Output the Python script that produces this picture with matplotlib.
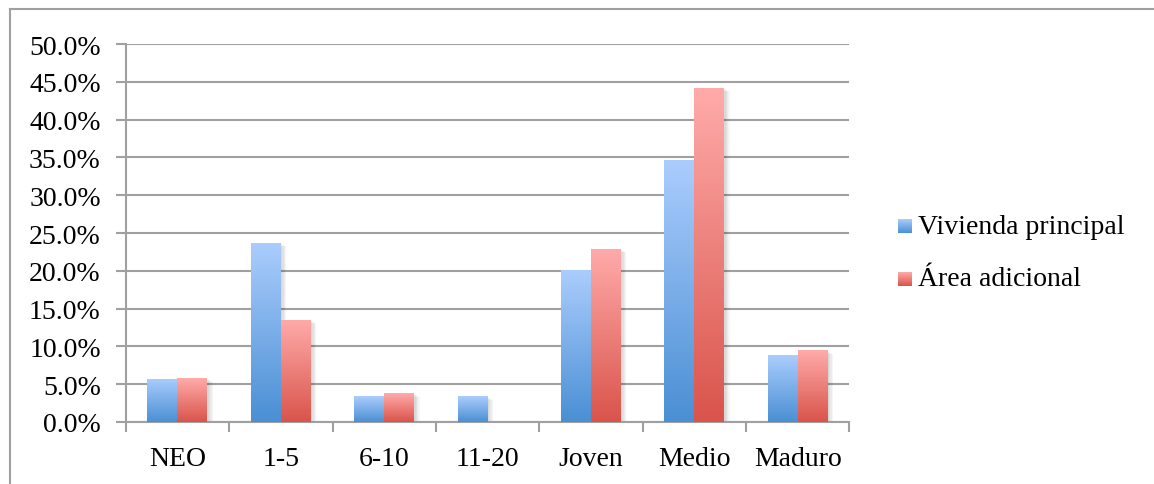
import matplotlib
matplotlib.use("Agg")
import matplotlib.pyplot as plt
import matplotlib.patheffects as pe
from matplotlib.colors import LinearSegmentedColormap
from matplotlib.lines import Line2D
from matplotlib.ticker import FuncFormatter, FixedLocator
import numpy as np

plt.rcParams["font.family"] = ["Liberation Serif", "DejaVu Serif"]

categories = ["NEO", "1-5", "6-10", "11-20", "Joven", "Medio", "Maduro"]
vivienda_principal = [5.7, 23.7, 3.4, 3.4, 20.1, 34.7, 8.8]
area_adicional = [5.8, 13.5, 3.8, 0.0, 22.9, 44.2, 9.5]
series_names = ["Vivienda principal", "Área adicional"]

blue_map = LinearSegmentedColormap.from_list("blue_grad", ["#4a8fd4", "#abcdfd"])
red_map = LinearSegmentedColormap.from_list("red_grad", ["#d9544b", "#ffabaa"])
grid_gray = "#a0a0a0"
fs = 20

fig = plt.figure(figsize=(11.54, 4.85), dpi=100)
ax = fig.add_axes([0.109, 0.128, 0.627, 0.779])

x = np.arange(len(categories))
width = 0.29
grad = np.linspace(0, 1, 256).reshape(-1, 1)

# soft shadow built from a few faint offset copies
shadow = [pe.SimplePatchShadow(offset=(dx, -dy), shadow_rgbFace="#000000", alpha=0.04)
          for dx, dy in [(1, 1), (2, 1.5), (3, 2), (4, 2.5)]]

for offset, vals, cmap in [(-width / 2, vivienda_principal, blue_map),
                           (width / 2, area_adicional, red_map)]:
    bars = ax.bar(x + offset, vals, width, facecolor="none", edgecolor="none",
                  zorder=2)
    for b in bars:
        h = b.get_height()
        if h <= 0:
            continue
        x0 = b.get_x()
        b.set_path_effects(shadow)
        im = ax.imshow(grad, extent=[x0, x0 + width, 0, h], origin="lower",
                       aspect="auto", cmap=cmap, zorder=3)
        im.set_clip_path(b)

ax.set_xlim(-0.5, len(categories) - 0.5)
ax.set_ylim(0, 50)
ax.set_yticks(np.arange(0, 51, 5))
ax.yaxis.set_major_formatter(FuncFormatter(lambda v, _: f"{v:.1f}%"))
ax.yaxis.grid(True, color=grid_gray, linewidth=1.5, zorder=0)
ax.set_axisbelow(True)

ax.set_xticks(x)
ax.set_xticklabels(categories)
ax.xaxis.set_minor_locator(FixedLocator(np.arange(-0.5, len(categories), 1)))
ax.tick_params(axis="x", which="major", length=0, pad=17, labelsize=fs)
ax.tick_params(axis="x", which="minor", length=7, width=1.5, color=grid_gray)
ax.tick_params(axis="y", length=7, width=1.5, color=grid_gray, labelsize=fs, pad=11)

for side in ["top", "right"]:
    ax.spines[side].set_visible(False)
for side in ["left", "bottom"]:
    ax.spines[side].set_color(grid_gray)
    ax.spines[side].set_linewidth(1.5)

# legend on the right: gradient swatch plus label
W, H = 1154, 485
for i, (name, cmap) in enumerate(zip(series_names, [blue_map, red_map])):
    cy = 227 + i * 53
    sw = fig.add_axes([898 / W, (H - cy - 7) / H, 14 / W, 14 / H])
    sw.imshow(grad, origin="lower", aspect="auto", cmap=cmap)
    sw.axis("off")
    fig.text(918 / W, (H - cy) / H, name, fontsize=fs, va="center", ha="left")

# outer chart frame
fig.add_artist(Line2D([10 / W, 10 / W], [0, 1 - 10 / H], color=grid_gray,
                      linewidth=1.5, transform=fig.transFigure))
fig.add_artist(Line2D([10 / W, 1], [1 - 10 / H, 1 - 10 / H], color=grid_gray,
                      linewidth=1.5, transform=fig.transFigure))

fig.savefig("out.png", dpi=100)
